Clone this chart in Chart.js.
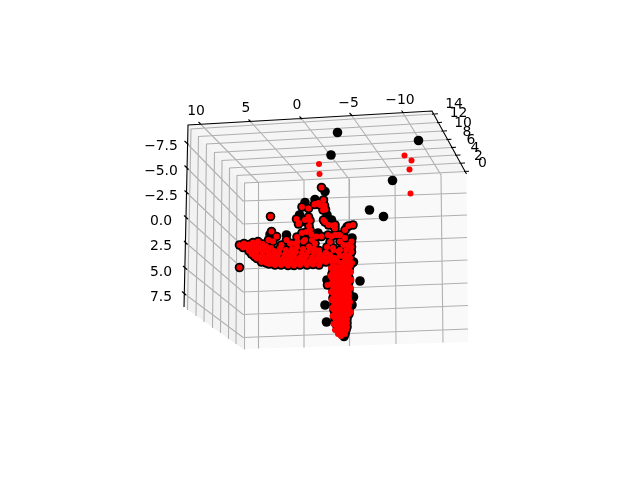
<!DOCTYPE html>
<html>
<head>
<meta charset="utf-8">
<title>3D scatter</title>
<script src="https://cdn.jsdelivr.net/npm/chart.js@4/dist/chart.umd.min.js"></script>
<style>
  html, body { margin: 0; padding: 0; background: #fff; }
  canvas { display: block; }
</style>
</head>
<body>
<canvas id="chart" width="640" height="480"></canvas>
<script>

// points where a red marker sits on a black one
const sharedPoints = [
  // left band
  [239.5,245],[244,243.5],[249,244.5],[253,242.5],[258,241.5],[262.5,244],[266,246],
  [243,247.5],[248,248],[252.5,247],[257,246.5],[261,248],[266,250],[271,248],
  [249,251],[253.5,250.5],[258,250],[263,252],[269,253],[274.5,251],[280,248.5],[286,250],[292,249],[297,247],[303,249],[309,246.5],[314,248.5],[319,250.5],
  [251.5,254],[256,253.5],[262,255.5],[267.5,256.5],[274,254.5],[279,253],[285,254.5],[290.5,253],[296,252],[302,253.5],[308,252],[314,253],[320,254],[326,252.5],
  [254.5,256.5],[259,257.5],[265,258.5],[271,258],[277,257],[283,258.5],[289,257],[294,256.5],[300,257.5],[306,256],[312,257.5],[318,257],[324,256.5],[330,255],
  [257,258.5],[262,260],[268,261],[274,260.5],[280,260],[286,261],[292,260],[298,260.5],[304,259.5],[310,261],[316,260],[322,260],[328,259],[334,258],
  [261.5,262],[266.5,263],[272,263.5],[278,262.5],[284,263.5],[290,263],[296,263.5],[302,262.5],[308,263],[314,262],[320,262.5],[326,262],[332,261],
  [269,264],[275,265],[281,265],[288,265.5],[294,265.5],[300,265],[307,265],[313,264.5],[319,265],
  // bumps over the band
  [270.5,216.5],[239.5,267.5],[271.5,231.5],[276.5,236.5],[268.5,240],[273,241.5],[281.5,245],[286.5,240],[290,243.5],[297.5,241.5],[291.5,243.5],[296.5,243.5],[303.5,241.5],[310,248.5],[315,243.5],[333.5,250],[338.5,251.5],[327.5,285],
  // upper cluster
  [321.5,187.5],[323.5,200],[318.5,203],[314.5,204.5],[324.5,205.5],[325.5,209.5],[302,207],[308.5,208.5],[315,204],[320,205],[296.5,219],[298.5,224],[308.5,217],[299,223],[309,226],[323.5,220],[325,222],[328.5,225],[306.5,232],[311.5,234.5],[316.5,236.5],[321.5,236.5],[331.5,236.5],[335,235],[335,228.5],[345,230],[348.5,226],[353,225],[351.5,241.5],[351.5,247],[351.5,252],[340,235],[340,241.5],[343.5,245],[346.5,250],[335,225],[338,235],[333,248],[345,255],[350,258],
  [305,220],[310,220.5],[333,225.5],[328,235],[310,230],[297,237],[305,240],[340,250],[345,238],[348,245],[292,252],[302,233],[323,210],[330,242],[312,240],[327,247],
  // column
  [335,258],[340,256],[345,259],[349,256],
  [333,262],[337,261],[341,263],[345,262],[349,262],[352,263],
  [333,266],[337,267],[342,266],[346,267],[350,266],
  [333,270],[337,271],[341,270],[345,271],[349,270],
  [332,274],[336,275],[340,274],[344,275],[348,274],
  [332,278],[336,279],[341,278],[345,279],[349,278],
  [333,282],[337,283],[341,282],[345,283],[349,282],
  [333,286],[337,287],[341,286],[345,287],[348,286],
  [333,290],[337,291],[341,290],[345,291],[349,290],
  [334,294],[338,295],[342,294],[346,295],[349,294],
  [333,298],[337,299],[341,298],[345,299],[349,298],
  [334,302],[338,303],[342,302],[346,303],[350,302],
  [334,306],[338,307],[342,306],[346,307],[349,306],
  [334,310],[338,311],[342,310],[346,311],[349,310],
  [335,314],[339,315],[343,314],[347,315],[349,314],
  [335,318],[339,319],[343,318],[347,319],
  [336,322],[340,323],[344,322],[347,323],
  [337,326],[341,327],[345,326],[347,327],
  [339,330],[343,331],[346,330],
  [342,334],[345,334]
];

const redOnlyPoints = [
  [319,164],[319.5,174],[404.5,155.5],[411.5,160.5],[409.5,169.5],[410.5,193.5],
  [331,268],[330.5,276],[331,284],[331,292],[331.5,300],[332,308],[332.5,316],[333.5,324],[335,330],[338,334],[341,336],
  [351,272],[351.5,280],[351,288],[351,312]
];

const blackOnlyPoints = [
  [337.5,132.5],[331,155],[418.5,140.5],[392.5,180.5],[369.5,210],[383.5,216.5],
  [360,281],[325,305],[326.5,322],[353.5,297],[325,191.5],[315,199.5],[305,202.5],
  [299.5,215],[305,221.5],[331.5,220],[327,215],[318,233],[353.5,262],[352,238],
  [286.5,235],[270,234.5],[347,227],[327,280],[352,305],[344,336.5]
];

// frame of the 3D box
const topPane = [[188,125],[432,111],[466.5,174],[243,183]];
const leftPane = [[188,125],[243,183],[243,349],[184,307]];
const frontPane = [[243,183],[466.5,174],[468,342],[243,349]];
const axisLines = [[[184,307],[188,125],[432,111],[466.5,174]]];

const xGrid = [
  [[200,123.5],[258.5,182.5],[258.5,348.5]],
  [[250,121],[304,180.5],[304,347.5]],
  [[301,118],[349,179],[349.5,346]],
  [[351,114.5],[395,177],[396,344]],
  [[402.5,112],[441,175],[443,342.5]]
];
const yGrid = [
  [[187.5,310],[191,129],[433.5,114]],
  [[196,316],[198.5,136.5],[438,122.5]],
  [[204,322],[206.5,144],[442.5,131]],
  [[212.5,328],[214.5,152.5],[447.5,139.5]],
  [[220.5,333],[222,160.5],[451.5,147.5]],
  [[228.5,339],[229.5,168],[456,155]],
  [[236,344],[237,175.5],[460.5,163]],
  [[244,349],[244.5,183],[465,171.5]]
];
const zGrid = [
  [[186,142.5],[243,201],[466.5,193]],
  [[186,167],[243,224],[467,215]],
  [[186,192],[243,246.5],[467,237.5]],
  [[185.5,217],[243,269],[467.5,260]],
  [[185.5,242.5],[243,292],[467.5,283]],
  [[184.5,267.5],[243,314.5],[468,305.5]],
  [[183.5,293],[243,337.5],[468,329]]
];

const tickMarks = [
  [[198.5,122],[201,124.5]],[[248.5,119.5],[251,122]],[[299.5,116.5],[302,119]],[[349.5,113],[352,115.5]],[[401.5,110.5],[403.5,113]],
  [[432,114.2],[438,113.7]],[[437,122.7],[442,122.3]],[[441.5,131.2],[447,130.8]],[[446.5,139.6],[451.5,139.2]],
  [[451,147.6],[456,147.2]],[[455,155.2],[460.5,155]],[[459.5,163.3],[465,163]],[[464,171.5],[469,171.2]],
  [[184.5,141],[188.5,144.5]],[[184.5,165.5],[188.5,169.5]],[[184.5,190.5],[188.5,194]],[[184,215.5],[188,219]],
  [[184,241],[187.5,244.5]],[[183,266],[187,269.5]],[[182,291.5],[186,295]]
];

const xTickLabels = ['10','5','0','\u22125','\u221210'];
const xLabelSpots = [[196,111],[246,108.5],[297,105.5],[348.5,103],[400,100]];
const yTickLabels = ['14','12','10','8','6','4','2','0'];
const yLabelSpots = [[454,104.5],[458.5,113.5],[463,123],[467,132],[471,140],[475,148],[478.5,156],[482.5,163]];
const zTickLabels = ['\u22127.5','\u22125.0','\u22122.5','0.0','2.5','5.0','7.5'];
const zLabelSpots = [[161,146],[161,171],[161,196],[161,221],[161,246],[161,272],[161,297]];

function toXY(list) {
  return list.map(p => ({ x: p[0], y: p[1] }));
}

// joins polylines into one dataset, a null point breaks the line
function joinLines(lines) {
  const out = [];
  lines.forEach(line => {
    out.push(...toXY(line));
    out.push({ x: null, y: null });
  });
  return out;
}

function lineSet(lines, color) {
  return {
    data: joinLines(lines),
    showLine: true,
    borderColor: color,
    borderWidth: 1.1,
    pointRadius: 0,
    pointHoverRadius: 0,
    spanGaps: false,
    clip: false,
  };
}

function markerSet(points, color, radius) {
  return {
    data: toXY(points),
    backgroundColor: color,
    borderWidth: 0,
    pointRadius: radius,
    pointBorderWidth: 0,
    clip: false,
  };
}

const boxPlugin = {
  id: 'box',
  beforeDatasetsDraw(chart) {
    const { ctx, scales } = chart;
    const panes = [[leftPane, '#f2f2f2'], [topPane, '#f5f5f5'], [frontPane, '#f9f9f9']];
    ctx.save();
    panes.forEach(([poly, color]) => {
      ctx.beginPath();
      poly.forEach((p, i) => {
        const px = scales.x.getPixelForValue(p[0]);
        const py = scales.y.getPixelForValue(p[1]);
        if (i === 0) ctx.moveTo(px, py);
        else ctx.lineTo(px, py);
      });
      ctx.closePath();
      ctx.fillStyle = color;
      ctx.fill();
    });
    ctx.restore();
  },
  afterDatasetsDraw(chart) {
    const { ctx, scales } = chart;
    ctx.save();
    ctx.font = '13.9px "DejaVu Sans"';
    ctx.fillStyle = '#000';
    ctx.textAlign = 'center';
    ctx.textBaseline = 'middle';
    [[xTickLabels, xLabelSpots], [yTickLabels, yLabelSpots], [zTickLabels, zLabelSpots]].forEach(([labels, spots]) => {
      labels.forEach((label, i) => {
        ctx.fillText(label, scales.x.getPixelForValue(spots[i][0]), scales.y.getPixelForValue(spots[i][1]));
      });
    });
    ctx.restore();
  },
};

new Chart(document.getElementById('chart'), {
  type: 'scatter',
  data: {
    // first dataset ends up on top
    datasets: [
      markerSet(sharedPoints.concat(redOnlyPoints), '#ff0000', 3),
      markerSet(sharedPoints.concat(blackOnlyPoints), '#000000', 4.8),
      lineSet(axisLines.concat(tickMarks), '#000000'),
      lineSet(xGrid.concat(yGrid, zGrid), '#b0b0b0'),
    ],
  },
  options: {
    responsive: false,
    animation: false,
    layout: { padding: 0, autoPadding: false },
    plugins: { legend: { display: false }, tooltip: { enabled: false } },
    scales: {
      x: { type: 'linear', min: 0, max: 640, display: false },
      y: { type: 'linear', min: 0, max: 480, reverse: true, display: false },
    },
  },
  plugins: [boxPlugin],
});
</script>
</body>
</html>
